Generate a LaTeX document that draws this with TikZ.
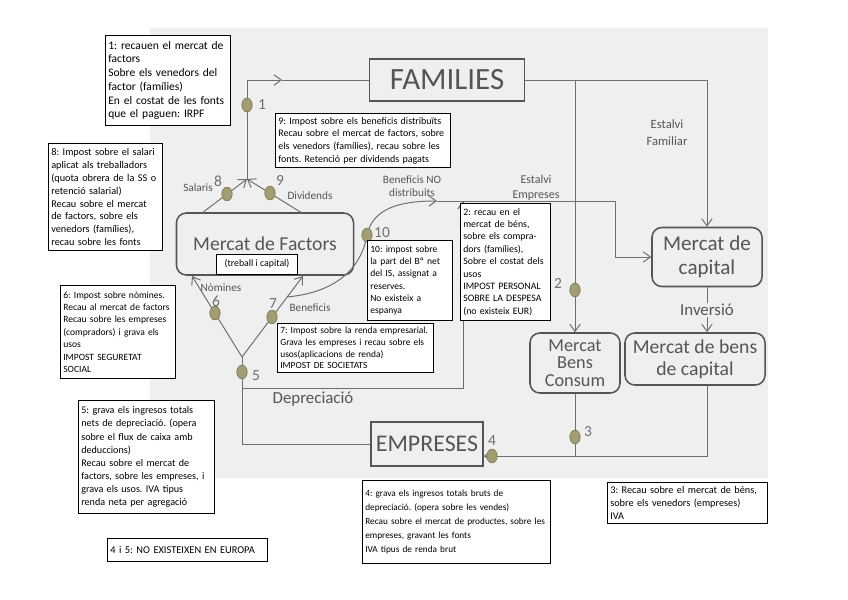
\documentclass[tikz,border=0pt]{standalone}
\usepackage{fontspec}
\setmainfont{Carlito}
\frenchspacing
\usetikzlibrary{arrows.meta,shapes.geometric}
\definecolor{FlowInk}{HTML}{555555}
\definecolor{FlowLine}{HTML}{6F6F6F}
\definecolor{FlowPaper}{HTML}{EFEFEF}
\definecolor{FlowMark}{HTML}{A29D72}
\definecolor{FlowMarkEdge}{HTML}{7E7A52}
\newcommand{\notefont}[2]{\fontsize{#1}{#2}\selectfont}
\tikzset{
  market/.style={draw=FlowInk, line width=1.1pt, fill=FlowPaper, rounded corners=7pt, align=center, text=FlowInk},
  sector/.style={draw=FlowInk, line width=1.1pt, fill=FlowPaper, text=FlowInk},
  note/.style={draw=black, line width=0.7pt, fill=white, align=left, anchor=north west, inner xsep=2pt, inner ysep=2.5pt},
  flowlabel/.style={text=FlowInk, font=\notefont{8}{9.5}, align=center},
  taxnum/.style={text=FlowLine, font=\notefont{11}{12}},
  taxmark/.style={ellipse, draw=FlowMarkEdge, fill=FlowMark, line width=0.5pt, minimum width=0.26cm, minimum height=0.34cm, inner sep=0pt},
  flow/.style={draw=FlowLine, line width=0.7pt, -{Straight Barb[length=1.8mm,width=2.6mm]}},
  link/.style={draw=FlowLine, line width=0.7pt},
}

\begin{document}
\begin{tikzpicture}[x=0.025cm, y=-0.025cm]
  \useasboundingbox (0,0) rectangle (848,599);
  % Scanned background
  \fill[FlowPaper] (150,28) rectangle (768,478);
  % Sectors and markets
  \node[sector, minimum width=3.875cm, minimum height=1.05cm, font=\notefont{22}{24}] (fam) at (447,80) {FAMILIES};
  \node[sector, minimum width=2.55cm, minimum height=1.1cm, font=\notefont{17}{19}] (emp) at (427,444) {EMPRESES};
  \node[market, minimum width=4.425cm, minimum height=1.55cm, font=\notefont{14}{16}] (factors) at (265,244) {Mercat de Factors};
  \node[draw=black, fill=white, line width=0.6pt, font=\notefont{7}{8}, minimum width=2.025cm, minimum height=0.5cm, inner sep=1pt] (tic) at (257,264) {(treball i capital)};
  \node[market, minimum width=2.75cm, minimum height=1.475cm, font=\notefont{15}{17}] (mcap) at (707,257) {Mercat de\\capital};
  \node[market, minimum width=3.5cm, minimum height=1.3cm, font=\notefont{14}{16}] (mbk) at (695,359) {Mercat de bens\\de capital};
  \node[market, minimum width=2.25cm, minimum height=1.5cm, inner ysep=1pt, font=\notefont{13}{12.5}] (mbc) at (575,363) {Mercat\\Bens\\Consum};
  % Corner points of the flows
  \coordinate (top) at (247,179);
  \coordinate (sal) at (202,213);
  \coordinate (div) at (302,213);
  \coordinate (famIn) at (282,80);
  \coordinate (junc) at (242,357);
  \coordinate (nom) at (192,276);
  \coordinate (ben) at (303,276);
  \coordinate (famR) at (707,80);
  \coordinate (cons) at (575,80);
  \coordinate (curv0) at (287,297);
  \coordinate (nd) at (437,201);
  \coordinate (estE) at (463,201);
  \coordinate (capL) at (615,201);
  \coordinate (depL) at (242,388);
  \coordinate (botR) at (707,456);
  % Salaris and dividends up to the families
  \draw[flow] (sal) -- (top);
  \draw[flow] (div) -- (top);
  \draw[flow] (top) |- (famIn);
  \draw[link] (famIn) -- (fam.west);
  % Spending and saving of the families
  \draw[link] (fam.east) -- (famR);
  \draw[flow] (famR) -- (mcap.north);
  \draw[flow] (cons) -- (mbc.north);
  % Saving of the firms
  \draw[flow] (curv0) .. controls (340,292) and (362,265) .. (367,235) .. controls (373,208) and (400,201) .. (nd);
  \draw[link] (nd) -- (capL);
  \draw[flow] (capL) |- (mcap.west);
  \draw[flow] (depL) -| (estE);
  % Investment
  \draw[flow] (mcap.south) -- (mcap.south |- mbk.north);
  % Sales back to the firms
  \draw[link] (mbc.south) -- (mbc.south |- botR);
  \draw[flow] (mbk.south -| botR) -- (botR) -- (emp.east |- botR);
  % Gross income of the firms
  \draw[link] (emp.west) -| (junc);
  \draw[flow] (junc) -- (nom);
  \draw[flow] (junc) -- (ben);
  % Tax points
  \foreach \id/\mx/\my/\lx/\ly in {1/247/105/262/105, 8/227/194/218/181, 9/270/193/280/180,
      6/215/313/216/301, 7/272/317/273/304, 10/367/235/382/233, 5/242/372/256/376,
      2/575/290/558/283, 3/575/437/588/432, 4/492/456/492/441} {
    \node[taxmark] (m\id) at (\mx,\my) {};
    \node[taxnum] (n\id) at (\lx,\ly) {\id};
  }
  % Flow labels
  \node[flowlabel] (salaris) at (198,188) {Salaris};
  \node[flowlabel] (dividends) at (310,196) {Dividends};
  \node[flowlabel] (nomines) at (221,288) {Nòmines};
  \node[flowlabel] (beneficis) at (310,308) {Beneficis};
  \node[flowlabel] (bnd) at (412,186) {Beneficis NO\\distribuits};
  \node[flowlabel, font=\notefont{8.5}{11}] (estemp) at (536,188) {Estalvi\\Empreses};
  \node[flowlabel, font=\notefont{9}{12}] (estfam) at (667,133) {Estalvi\\Familiar};
  \node[flowlabel, font=\notefont{12}{14}] (depr) at (313,399) {Depreciació};
  \node[flowlabel, font=\notefont{12}{14}, fill=FlowPaper, inner sep=1pt] (inv) at (707,310) {Inversió};
  % Notes on the taxes
  \node[note, text width=2.985cm, minimum height=2.25cm, font=\notefont{8.2}{9.8}] (t1) at (105,35)
    {1: recauen el mercat de\\factors\\Sobre els venedors del\\factor (famílies)\\En el costat de les fonts\\que el paguen: IRPF};
  \node[note, text width=4.235cm, minimum height=1.35cm, font=\notefont{7.1}{9}] (t9) at (275,113)
    {9: Impost sobre els beneficis distribuïts\\Recau sobre el mercat de factors, sobre\\els venedors (famílies), recau sobre les\\fonts. Retenció per dividends pagats};
  \node[note, text width=2.71cm, minimum height=2.675cm, font=\notefont{7.3}{9.2}] (t8) at (48,143)
    {8: Impost sobre el salari\\aplicat als treballadors\\(quota obrera de la SS o\\retenció salarial)\\Recau sobre el mercat\\de factors, sobre els\\venedors (famílies),\\recau sobre les fonts};
  \node[note, text width=2.735cm, minimum height=2.325cm, font=\notefont{6.8}{8.8}] (t6) at (60,285)
    {6: Impost sobre nòmines.\\Recau al mercat de factors\\Recau sobre les empreses\\(compradors) i grava els\\usos\\IMPOST SEGURETAT\\SOCIAL};
  \node[note, text width=1.985cm, minimum height=2cm, font=\notefont{6.8}{8.8}] (t10) at (367,240)
    {10: impost sobre\\la part del Bº net\\del IS, assignat a\\reserves.\\No existeix a\\espanya};
  \node[note, text width=2.11cm, minimum height=2.925cm, font=\notefont{7}{8.8}] (t2) at (460,203)
    {2: recau en el\\mercat de béns,\\sobre els compra-\\dors (famílies),\\Sobre el costat dels\\usos\\IMPOST PERSONAL\\SOBRE LA DESPESA\\(no existeix EUR)};
  \node[note, text width=3.76cm, minimum height=1.225cm, font=\notefont{6.7}{8.2}] (t7) at (277,323)
    {7: Impost sobre la renda empresarial.\\Grava les empreses i recau sobre els\\usos(aplicacions de renda)\\IMPOST DE SOCIETATS};
  \node[note, text width=3.26cm, minimum height=2.825cm, font=\notefont{7.2}{9.3}] (t5) at (78,400)
    {5: grava els ingresos totals\\nets de depreciació. (opera\\sobre el flux de caixa amb\\deduccions)\\Recau sobre el mercat de\\factors, sobre les empreses, i\\grava els usos. IVA tipus\\renda neta per agregació};
  \node[note, text width=4.56cm, minimum height=2.075cm, font=\notefont{6.6}{10}] (t4) at (362,480)
    {4: grava els ingresos totals bruts de\\depreciació. (opera sobre les vendes)\\Recau sobre el mercat de productes, sobre les\\empreses, gravant les fonts\\IVA tipus de renda brut};
  \node[note, text width=3.86cm, minimum height=1.025cm, font=\notefont{7.3}{9}] (t3) at (607,482)
    {3: Recau sobre el mercat de béns,\\sobre els venedors (empreses)\\IVA};
  \node[note, text width=3.86cm, minimum height=0.575cm, font=\notefont{7.4}{9}] (t45) at (107,538)
    {4 i 5: NO EXISTEIXEN EN EUROPA};
\end{tikzpicture}
\end{document}
